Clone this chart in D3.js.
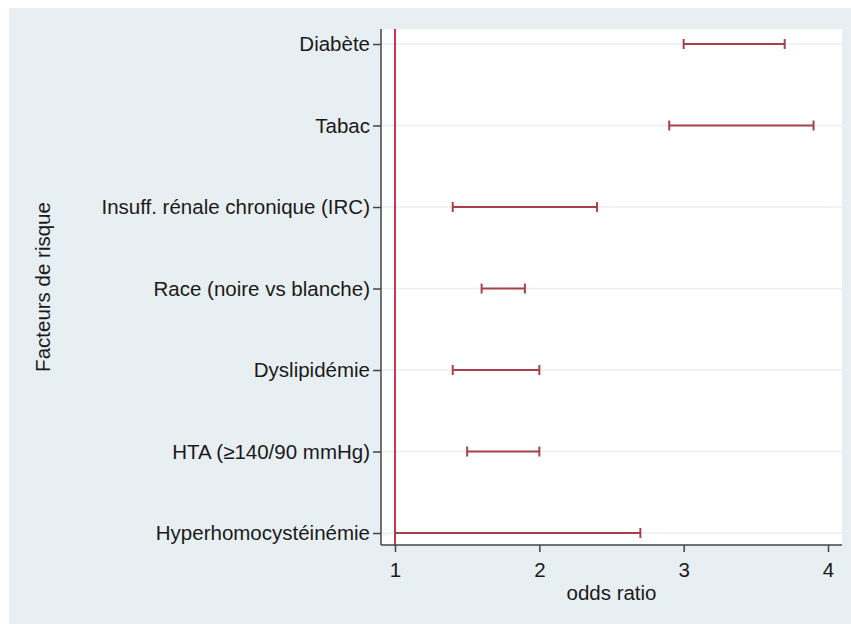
<!DOCTYPE html>
<html>
<head>
<meta charset="utf-8">
<script src="https://cdn.jsdelivr.net/npm/d3@7"></script>
<style>
  html, body { margin: 0; padding: 0; background: #fff; }
  svg text { font-family: "Liberation Sans", Arial, Helvetica, sans-serif; fill: #1a1a1a; }
</style>
</head>
<body>
<div id="chart"></div>
<script>
var categories = ['Diabète', 'Tabac', 'Insuff. rénale chronique (IRC)', 'Race (noire vs blanche)',
  'Dyslipidémie', 'HTA (≥140/90 mmHg)', 'Hyperhomocystéinémie'];
var lowValues = [3.0, 2.9, 1.4, 1.6, 1.4, 1.5, 1.0];
var highValues = [3.7, 3.9, 2.4, 1.9, 2.0, 2.0, 2.7];
var xTicks = [1, 2, 3, 4];
var refValue = 1;

var width = 851, height = 624;
var plotLeft = 381, plotRight = 842, plotTop = 29, plotBottom = 545;
var fontSize = '20.5px';

var svg = d3.select('#chart').append('svg')
  .attr('width', width)
  .attr('height', height);

svg.append('rect')
  .attr('x', 9).attr('y', 8)
  .attr('width', width - 9).attr('height', height - 8)
  .attr('fill', '#e8eff2');

svg.append('rect')
  .attr('x', plotLeft).attr('y', plotTop)
  .attr('width', plotRight - plotLeft).attr('height', plotBottom - plotTop)
  .attr('fill', '#ffffff');

var xScale = d3.scaleLinear().domain([0.903, 4.097]).range([plotLeft, plotRight]);
var yScale = d3.scaleLinear().domain([0.816, 7.147]).range([plotTop, plotBottom]);

var data = categories.map(function (c, i) {
  return { name: c, pos: i + 1, low: lowValues[i], high: highValues[i] };
});

// grid lines
svg.append('g').selectAll('line')
  .data(data)
  .enter().append('line')
  .attr('x1', plotLeft).attr('x2', plotRight)
  .attr('y1', function (d) { return yScale(d.pos); })
  .attr('y2', function (d) { return yScale(d.pos); })
  .attr('stroke', '#e6eef2')
  .attr('stroke-width', 1.5);

// reference line
svg.append('line')
  .attr('x1', xScale(refValue)).attr('x2', xScale(refValue))
  .attr('y1', plotTop).attr('y2', plotBottom)
  .attr('stroke', '#cc1f3d')
  .attr('stroke-width', 1.8);

// error bars
var bars = svg.append('g').selectAll('g')
  .data(data)
  .enter().append('g')
  .attr('stroke', '#a8404c')
  .attr('stroke-width', 2);

bars.append('line')
  .attr('x1', function (d) { return xScale(d.low); })
  .attr('x2', function (d) { return xScale(d.high); })
  .attr('y1', function (d) { return yScale(d.pos); })
  .attr('y2', function (d) { return yScale(d.pos); });

bars.append('line')
  .attr('x1', function (d) { return xScale(d.low); })
  .attr('x2', function (d) { return xScale(d.low); })
  .attr('y1', function (d) { return yScale(d.pos) - 5; })
  .attr('y2', function (d) { return yScale(d.pos) + 5; });

bars.append('line')
  .attr('x1', function (d) { return xScale(d.high); })
  .attr('x2', function (d) { return xScale(d.high); })
  .attr('y1', function (d) { return yScale(d.pos) - 5; })
  .attr('y2', function (d) { return yScale(d.pos) + 5; });

// axes
var xAxis = d3.axisBottom(xScale).tickValues(xTicks).tickSize(7).tickPadding(10).tickSizeOuter(0)
  .tickFormat(d3.format('d'));
var yAxis = d3.axisLeft(yScale).tickValues(data.map(function (d) { return d.pos; }))
  .tickSize(8).tickPadding(3).tickSizeOuter(0)
  .tickFormat(function (v) { return categories[v - 1]; });

var gx = svg.append('g').attr('transform', 'translate(0,' + plotBottom + ')').call(xAxis);
var gy = svg.append('g').attr('transform', 'translate(' + plotLeft + ',0)').call(yAxis);

[gx, gy].forEach(function (g) {
  g.select('.domain').attr('stroke', '#444').attr('stroke-width', 1.5);
  g.selectAll('.tick line').attr('stroke', '#444').attr('stroke-width', 1.5);
  g.selectAll('.tick text').style('font-size', fontSize).attr('fill', '#1a1a1a');
});
gx.select('.domain').attr('d', 'M' + plotLeft + ',0H' + plotRight);
gy.select('.domain').attr('d', 'M0,' + plotTop + 'V' + plotBottom);

svg.append('text')
  .attr('x', (plotLeft + plotRight) / 2)
  .attr('y', 600)
  .attr('text-anchor', 'middle')
  .style('font-size', fontSize)
  .text('odds ratio');

svg.append('text')
  .attr('transform', 'translate(50,' + ((plotTop + plotBottom) / 2) + ') rotate(-90)')
  .attr('text-anchor', 'middle')
  .style('font-size', fontSize)
  .text('Facteurs de risque');
</script>
</body>
</html>
